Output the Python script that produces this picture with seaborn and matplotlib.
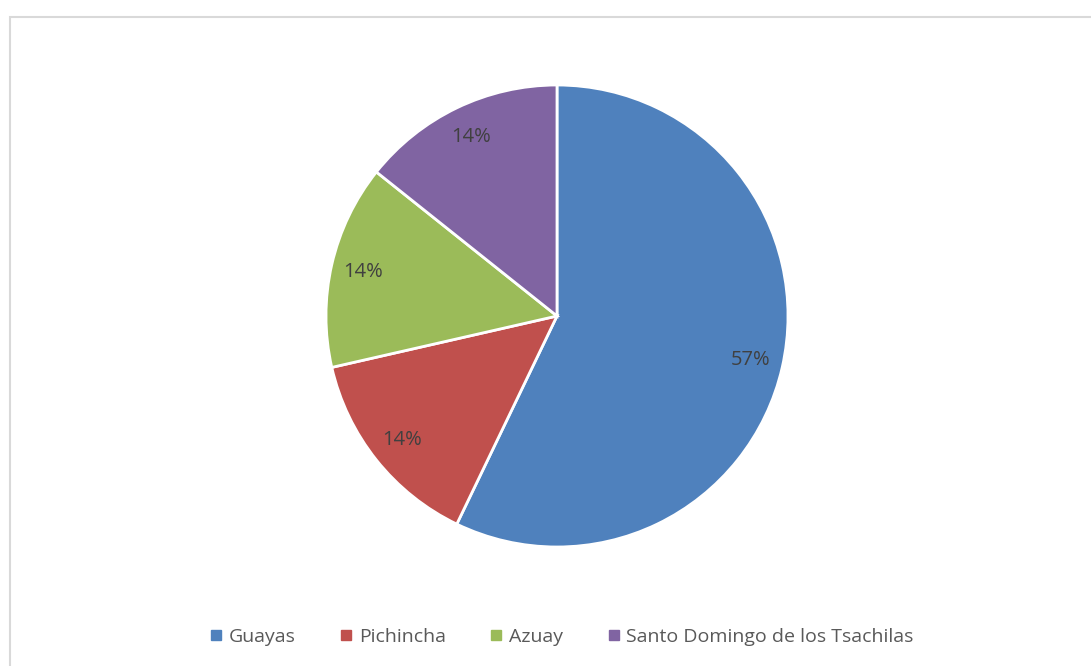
import matplotlib
matplotlib.use("Agg")
import matplotlib.pyplot as plt
from matplotlib.lines import Line2D
from matplotlib.patches import Rectangle
import seaborn as sns

# Provinces and their share of the total
provinces = ["Guayas", "Pichincha", "Azuay", "Santo Domingo de los Tsachilas"]
counts = [4, 1, 1, 1]
colors = ["#4F81BD", "#C0504D", "#9BBB59", "#8064A2"]

sns.set_theme(style="white")
plt.rcParams["font.family"] = ["Open Sans", "DejaVu Sans"]

W, H = 1091, 666
fig = plt.figure(figsize=(W / 100, H / 100), dpi=100)
fig.patch.set_facecolor("white")

# Chart-area frame
fig.patches.append(Rectangle((10 / W, -0.05), 1.1, 1 - 17 / H + 0.05,
                             transform=fig.transFigure, fill=False,
                             edgecolor="#D9D9D9", linewidth=1.5, zorder=0))

cx, cy, r = 557, 316, 231
ax = fig.add_axes([(cx - r) / W, (H - cy - r) / H, 2 * r / W, 2 * r / H])
palette = sns.color_palette(colors)

wedges, texts, autotexts = ax.pie(
    counts, colors=palette, startangle=90, counterclock=False,
    autopct=lambda p: f"{p:.0f}%", pctdistance=0.86,
    wedgeprops=dict(edgecolor="white", linewidth=2),
    textprops=dict(color="#404040", fontsize=14.5),
)
for w in wedges:
    w.set_clip_on(False)
ax.set_xlim(-1, 1)
ax.set_ylim(-1, 1)
ax.axis("off")

handles = [Line2D([], [], marker="s", linestyle="none", markersize=7,
                  markerfacecolor=c, markeredgecolor=c) for c in colors]
fig.legend(handles, provinces, loc="center", bbox_to_anchor=(562 / W, 1 - 637 / H),
           ncol=4, frameon=False, handlelength=0.6, handletextpad=0.35,
           columnspacing=2.3, fontsize=14, labelcolor="#595959")

fig.savefig("out.png", dpi=100, facecolor="white")
